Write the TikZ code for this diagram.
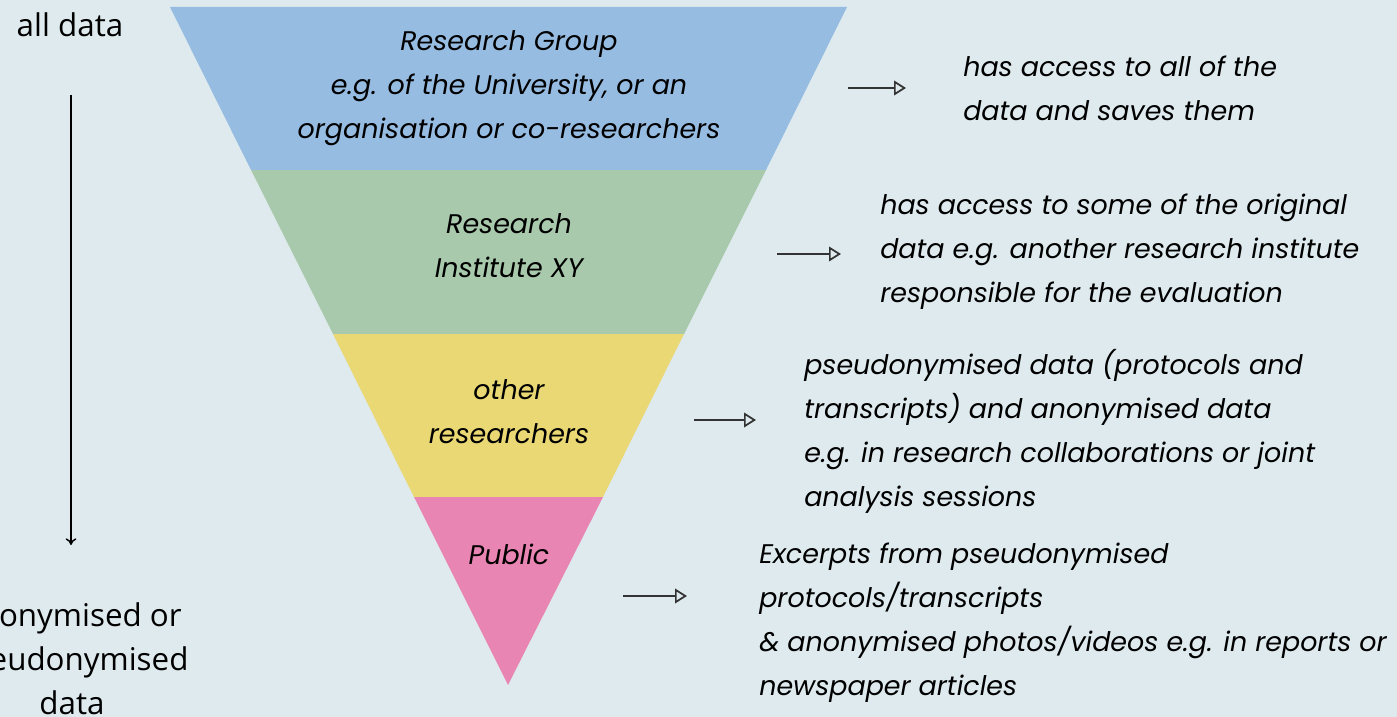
\documentclass[tikz,border=0pt]{standalone}
\usepackage{fontspec}
\setmainfont{Poppins}
\newfontfamily\leftfont{Open Sans}
\usepackage{xcolor}
\usetikzlibrary{arrows.meta}

\definecolor{bgcol}{RGB}{222,234,238}
\definecolor{bandblue}{RGB}{151,188,226}
\definecolor{bandgreen}{RGB}{168,201,171}
\definecolor{bandyellow}{RGB}{234,216,116}
\definecolor{bandpink}{RGB}{233,133,178}
\definecolor{arrowgray}{RGB}{51,51,51}

\tikzset{
  bandtext/.style={anchor=center, inner sep=0.75pt, font=\fontsize{20.2}{33}\selectfont\itshape, align=center},
  sidetext/.style={anchor=west, inner sep=0.75pt, font=\fontsize{20.2}{33}\selectfont\itshape, align=left},
  lefttext/.style={anchor=center, inner sep=0.75pt, font=\leftfont\fontsize{23.5}{33}\selectfont, align=center},
  pointer/.style={draw=arrowgray, line width=1.3pt, -{Triangle[open, length=9pt, width=11pt, line width=1.3pt]}}
}

\begin{document}
\begin{tikzpicture}[x=0.75pt,y=0.75pt,yscale=-1,xscale=1]
\useasboundingbox (0,0) rectangle (1397,717);

%Background
\fill [bgcol] (0,0) rectangle (1397,717);

%Shape: Funnel bands
\fill [bandblue] (170,7) -- (847,7) -- (766,170) -- (251,170) -- cycle ;
\fill [bandgreen] (251,170) -- (766,170) -- (684,334) -- (333,334) -- cycle ;
\fill [bandyellow] (333,334) -- (684,334) -- (603,497) -- (414,497) -- cycle ;
\fill [bandpink] (414,497) -- (603,497) -- (508,685) -- cycle ;

% Text Node
\node [bandtext] (group) at (509,88) {Research Group\\e.g. of the University, or an\\organisation or co-researchers};
% Text Node
\node [bandtext] (institute) at (509,246) {Research\\Institute XY};
% Text Node
\node [bandtext] (others) at (509,412) {other\\researchers};
% Text Node
\node [bandtext] (public) at (509,554) {Public};

% Text Node
\node [sidetext] (groupnote) at (962,88) {has access to all of the\\data and saves them};
% Text Node
\node [sidetext] (institutenote) at (879,252) {has access to some of the original\\data e.g. another research institute\\responsible for the evaluation};
% Text Node
\node [sidetext] (othersnote) at (803,431) {pseudonymised data (protocols and\\transcripts) and anonymised data\\e.g. in research collaborations or joint\\analysis sessions};
% Text Node
\node [sidetext] (publicnote) at (758,623) {Excerpts from pseudonymised\\protocols/transcripts\\\& anonymised photos/videos e.g. in reports or\\newspaper articles};

%Straight Lines: pointers
\coordinate (groupA) at (848,88);
\coordinate (groupB) at (906,88);
\coordinate (instA) at (777,254);
\coordinate (instB) at (841,254);
\coordinate (othA) at (694,420);
\coordinate (othB) at (756,420);
\coordinate (pubA) at (623,596);
\coordinate (pubB) at (687,596);
\draw [pointer] (groupA) -- (groupB) ;
\draw [pointer] (instA) -- (instB) ;
\draw [pointer] (othA) -- (othB) ;
\draw [pointer] (pubA) -- (pubB) ;

% Text Node
\node [lefttext] (alldata) at (70,25) {all data};
% Text Node
\node [lefttext] (anondata) at (72,659) {anonymised or\\pseudonymised\\data};

%Straight Lines: scale
\coordinate (scaleA) at (71,95);
\coordinate (scaleB) at (71,545);
\draw [line width=1.1pt, -{To[length=5pt, width=8pt]}] (scaleA) -- (scaleB) ;

\end{tikzpicture}
\end{document}
